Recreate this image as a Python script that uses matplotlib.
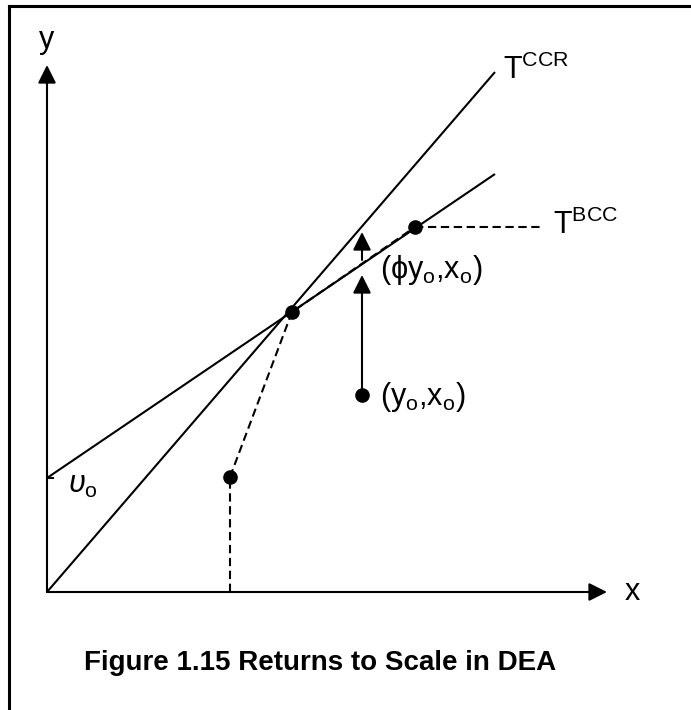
import numpy as np
import matplotlib
matplotlib.use('Agg')
import matplotlib.pyplot as plt

matplotlib.rcParams.update({'font.family': 'Liberation Sans',
                            'mathtext.fontset': 'custom',
                            'mathtext.rm': 'Liberation Sans',
                            'mathtext.it': 'Liberation Sans:italic',
                            'mathtext.bf': 'Liberation Sans:bold'})

# points of the diagram (x = input, y = output), origin at the axes corner
dmu_names = ['A', 'B', 'C', 'D']
dmu_x = [183, 245, 368, 315]
dmu_y = [115, 280, 365, 197]

# frontiers
ccr_x = [0, 448]
ccr_y = [0, 520]
bcc_intercept = 114
bcc_x = [0, 448]
bcc_y = [114, 418]
bcc_flat_end = 493

# projection of (y_o, x_o) onto the frontier
proj_arrow_y = [197, 317]
small_arrow_y = [332, 360]

# axes extents
x_axis_end = 560
y_axis_end = 527

labels = {
    'ccr': r'$\mathrm{T^{CCR}}$',
    'bcc': r'$\mathrm{T^{BCC}}$',
    'phi': r'$\mathrm{(\phi y_o{,}x_o)}$',
    'dmu': r'$\mathrm{(y_o{,}x_o)}$',
    'nu': r'$\upsilon_\mathrm{o}$',
}
caption = 'Figure 1.15 Returns to Scale in DEA'

fig = plt.figure(figsize = (6.91, 7.10), dpi = 100)
ax = fig.add_axes([0, 0, 1, 1])
ax.set_xlim(-47, 644)
ax.set_ylim(-118, 592)
ax.axis('off')

lw = 1.5
k = dict(color = 'black', lw = lw, solid_capstyle = 'butt')
dash = (0, (4, 2.2))

# outer frame (only top and left edges visible)
ax.plot([-38, 644], [586, 586], color = 'black', lw = 2.2)
ax.plot([-38, -38], [586, -118], color = 'black', lw = 2.2)

# axes with arrow heads
arrow = dict(arrowstyle = '-|>,head_length=1.1,head_width=0.55', color = 'black',
             lw = lw, shrinkA = 0, shrinkB = 0, mutation_scale = 10)
ax.annotate('', xy = (x_axis_end, 0), xytext = (0, 0), arrowprops = arrow)
ax.annotate('', xy = (0, y_axis_end), xytext = (0, 0), arrowprops = arrow)
ax.text(0, 552, 'y', fontsize = 22, ha = 'center', va = 'center')
ax.text(585, 0, 'x', fontsize = 22, ha = 'center', va = 'center')

# CCR and BCC frontiers
ax.plot(ccr_x, ccr_y, **k)
ax.plot(bcc_x, bcc_y, **k)
ax.plot([0, 7], [bcc_intercept, bcc_intercept], **k)

# piecewise linear BCC frontier (dashed)
ax.plot([dmu_x[0], dmu_x[0]], [0, dmu_y[0]], color = 'black', lw = lw, ls = dash)
ax.plot(dmu_x[:3], dmu_y[:3], color = 'black', lw = lw, ls = dash)
ax.plot([dmu_x[2], bcc_flat_end], [dmu_y[2], dmu_y[2]], color = 'black', lw = lw, ls = dash)

ax.plot(dmu_x, dmu_y, 'o', color = 'black', ms = 9.5, zorder = 5)

# projection arrows
ax.annotate('', xy = (dmu_x[3], proj_arrow_y[1]), xytext = (dmu_x[3], proj_arrow_y[0]), arrowprops = arrow)
ax.annotate('', xy = (dmu_x[3], small_arrow_y[1]), xytext = (dmu_x[3], small_arrow_y[0]), arrowprops = arrow)

# labels
ax.text(456, 522, labels['ccr'], fontsize = 22, ha = 'left', va = 'center')
ax.text(506, 367, labels['bcc'], fontsize = 22, ha = 'left', va = 'center')
ax.text(333, 322, labels['phi'], fontsize = 22, ha = 'left', va = 'center')
ax.text(333, 195, labels['dmu'], fontsize = 22, ha = 'left', va = 'center')
ax.text(21, 107, labels['nu'], fontsize = 22, ha = 'left', va = 'center')

ax.text(273, -71, caption, fontsize = 20, fontweight = 'bold', ha = 'center', va = 'center')

plt.savefig('out.png', dpi = 100)
